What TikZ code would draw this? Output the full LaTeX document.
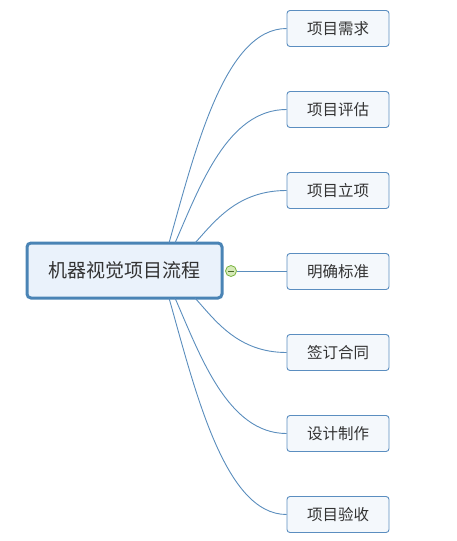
\documentclass[tikz,border=0pt]{standalone}
\usepackage{fontspec}
\setmainfont{Noto Sans CJK SC}
\definecolor{linec}{HTML}{5A8DBD}
\definecolor{mainbd}{HTML}{4A84B5}
\definecolor{mainfill}{HTML}{EAF2FB}
\definecolor{subbd}{HTML}{5B8EC0}
\definecolor{subfill}{HTML}{F4F8FC}
\definecolor{txt}{HTML}{333333}
\definecolor{knobfill}{HTML}{D6EAB8}
\definecolor{knobbd}{HTML}{7AB342}
\tikzset{
  mainbox/.style={draw=mainbd, line width=3pt, fill=mainfill, rounded corners=4pt,
    minimum width=195pt, minimum height=55pt, inner sep=0pt, text=txt,
    font=\fontsize{19}{22}\selectfont},
  subbox/.style={draw=subbd, line width=0.9pt, fill=subfill, rounded corners=3pt,
    minimum width=102pt, minimum height=36pt, inner sep=0pt, text=txt,
    font=\fontsize{15.5}{18}\selectfont},
  conn/.style={draw=linec, line width=0.9pt},
}
\begin{document}
\begin{tikzpicture}[x=1pt,y=-1pt]
\useasboundingbox (0,0) rectangle (457,541);
\node[mainbox] (c) at (124.5,270.5) {机器视觉项目流程};
\node[subbox] (b1) at (338,28.5) {项目需求};
\node[subbox] (b2) at (338,109.5) {项目评估};
\node[subbox] (b3) at (338,190.5) {项目立项};
\node[subbox] (b4) at (338,271.5) {明确标准};
\node[subbox] (b5) at (338,352.5) {签订合同};
\node[subbox] (b6) at (338,433.5) {设计制作};
\node[subbox] (b7) at (338,514.5) {项目验收};
\coordinate (s1) at (169,243);
\coordinate (s2) at (175,243);
\coordinate (s3) at (195,243);
\coordinate (s5) at (195,298);
\coordinate (s6) at (175,298);
\coordinate (s7) at (169,298);
\draw[conn] (s1) .. controls +(26,-92) and +(-62,0) .. (b1.west);
\draw[conn] (s2) .. controls +(25,-57) and +(-59,0) .. (b2.west);
\draw[conn] (s3) .. controls +(20,-22) and +(-49,0) .. (b3.west);
\draw[conn] (s5) .. controls +(20,22) and +(-49,0) .. (b5.west);
\draw[conn] (s6) .. controls +(25,57) and +(-59,0) .. (b6.west);
\draw[conn] (s7) .. controls +(26,92) and +(-62,0) .. (b7.west);
\node[circle, draw=knobbd, fill=knobfill, line width=0.8pt, minimum size=11pt, inner sep=0pt] (k) at (231,271) {};
\draw[conn] (k.east) -- (b4.west |- k.east);
\draw[draw=knobbd!60!black, line width=0.9pt] ([xshift=-3pt]k.center) -- ([xshift=3pt]k.center);
\end{tikzpicture}
\end{document}
